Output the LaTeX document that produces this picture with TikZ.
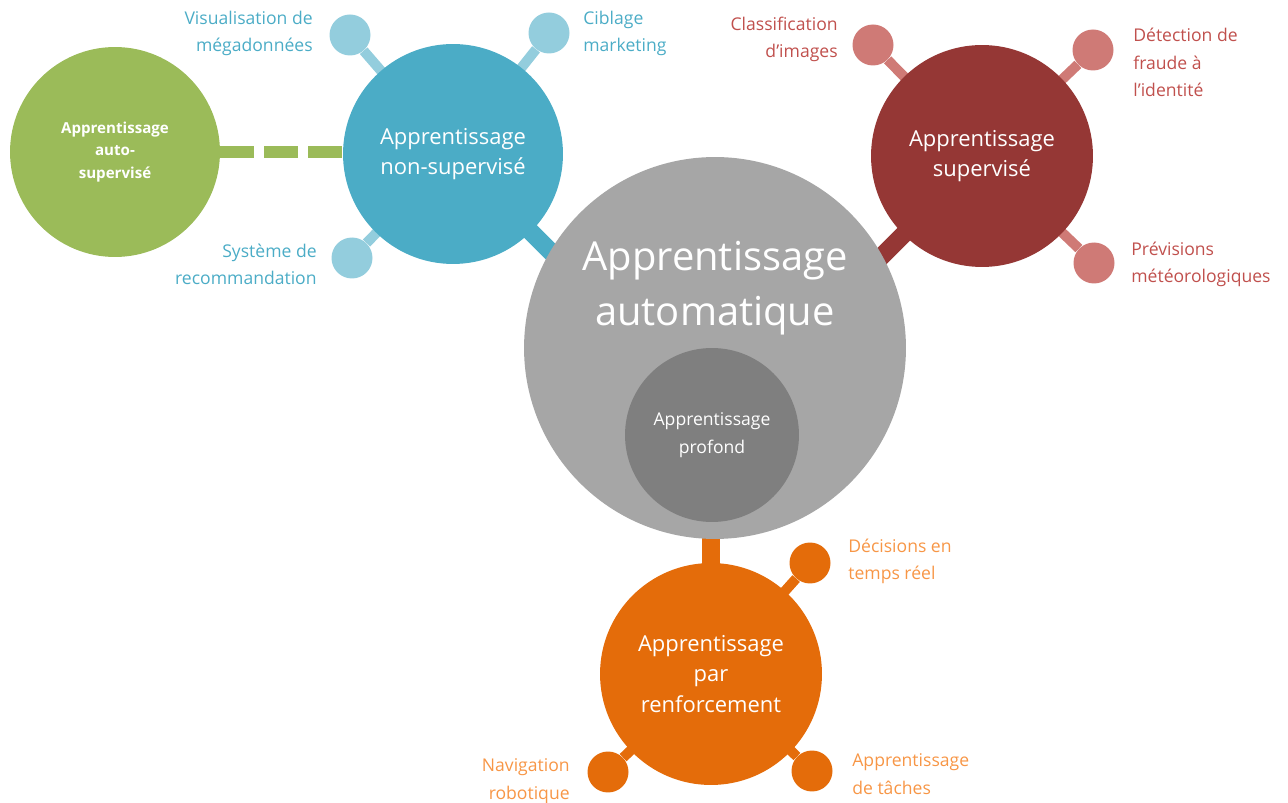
\documentclass[tikz,border=0pt]{standalone}
\usepackage{fontspec}
\setmainfont{Open Sans}
\usetikzlibrary{backgrounds}

\definecolor{grnC}{HTML}{9BBB59}
\definecolor{bluC}{HTML}{4BACC6}
\definecolor{bluL}{HTML}{93CDDD}
\definecolor{redC}{HTML}{953735}
\definecolor{redL}{HTML}{CF7A76}
\definecolor{redT}{HTML}{C0504D}
\definecolor{orgC}{HTML}{E46C0A}
\definecolor{orgT}{HTML}{F79646}
\definecolor{gryA}{HTML}{A6A6A6}
\definecolor{gryB}{HTML}{7F7F7F}

\begin{document}
\begin{tikzpicture}[x=0.02cm, y=-0.02cm,
	bubble/.style={circle, inner sep=0pt, text=white, align=center},
	leaf/.style={circle, inner sep=0pt, minimum size=0.82cm},
	tag/.style={inner sep=0pt, font=\fontsize{10}{15.9}\selectfont},
	twig/.style={line width=5.7pt},
	trunk/.style={line width=10.2pt}]
	\useasboundingbox (0,0) rectangle (1288,803);
	% main circles
	\node[bubble, fill=gryA, minimum size=7.64cm] (auto) at (715,348) {};
	\node[text=white, align=center, inner sep=0pt, font=\fontsize{22.7}{31.2}\selectfont] (autoT) at (715,288) {Apprentissage\\automatique};
	\node[bubble, fill=gryB, minimum size=3.48cm, font=\fontsize{10}{15.9}\selectfont] (deep) at (712,435) {Apprentissage\\profond};
	\node[bubble, fill=bluC, minimum size=4.4cm, font=\fontsize{12.5}{17.3}\selectfont] (unsup) at (453,154) {Apprentissage\\non-supervisé};
	\node[bubble, fill=grnC, minimum size=4.2cm, font=\fontsize{8.6}{12.8}\selectfont\bfseries] (selfsup) at (115,152) {Apprentissage\\auto-\\supervisé};
	\node[bubble, fill=redC, minimum size=4.44cm, font=\fontsize{12.5}{17.3}\selectfont] (sup) at (982,156) {Apprentissage\\supervisé};
	\node[bubble, fill=orgC, minimum size=4.44cm, font=\fontsize{12.5}{17.3}\selectfont] (reinf) at (711,674) {Apprentissage\\par\\renforcement};
	% small circles
	\node[leaf, fill=bluL] (bigdata) at (350,35) {};
	\node[leaf, fill=bluL] (marketing) at (549,33) {};
	\node[leaf, fill=bluL] (recommend) at (352,258) {};
	\node[leaf, fill=redL] (images) at (873,45) {};
	\node[leaf, fill=redL] (fraud) at (1093,50) {};
	\node[leaf, fill=redL] (weather) at (1094,263) {};
	\node[leaf, fill=orgC] (realtime) at (810,563) {};
	\node[leaf, fill=orgC] (robot) at (608,772) {};
	\node[leaf, fill=orgC] (tasks) at (812,771) {};
	% labels (base = last line)
	\node[tag, text=bluC, align=right, anchor=base east] (bigdataT) at (313,52) {Visualisation de\\mégadonnées};
	\node[tag, text=bluC, align=left, anchor=base west] (marketingT) at (583,52) {Ciblage\\marketing};
	\node[tag, text=bluC, align=right, anchor=base east] (recommendT) at (317,285) {Système de\\recommandation};
	\node[tag, text=redT, align=right, anchor=base east] (imagesT) at (838,58) {Classification\\d’images};
	\node[tag, text=redT, align=left, anchor=base west] (fraudT) at (1133,97) {Détection de\\fraude à\\l’identité};
	\node[tag, text=redT, align=left, anchor=base west] (weatherT) at (1131,283) {Prévisions\\météorologiques};
	\node[tag, text=orgT, align=left, anchor=base west] (realtimeT) at (848,580) {Décisions en\\temps réel};
	\node[tag, text=orgT, align=right, anchor=base east] (robotT) at (570,799) {Navigation\\robotique};
	\node[tag, text=orgT, align=left, anchor=base west] (tasksT) at (852,794) {Apprentissage\\de tâches};
	\coordinate (unsupJoin) at (566,267);
	\coordinate (supJoin) at (865,273);
	% connectors
	\begin{pgfonlayer}{background}
		\draw[trunk, bluC] (unsup.center)--(unsupJoin);
		\draw[trunk, redC] (sup.center)--(supJoin);
		\draw[trunk, orgC] (auto.center -| reinf.center)--(reinf.center);
		\draw[line width=6.8pt, grnC, dash pattern=on 19.3pt off 5.7pt] (selfsup.east)--(selfsup.east -| unsup.west);
		\draw[twig, bluL] (bigdata)--(unsup.center);
		\draw[twig, bluL] (marketing)--(unsup.center);
		\draw[twig, bluL] (recommend)--(unsup.center);
		\draw[twig, redL] (images)--(sup.center);
		\draw[twig, redL] (fraud)--(sup.center);
		\draw[twig, redL] (weather)--(sup.center);
		\draw[twig, orgC] (realtime)--(reinf.center);
		\draw[twig, orgC] (robot)--(reinf.center);
		\draw[twig, orgC] (tasks)--(reinf.center);
	\end{pgfonlayer}
\end{tikzpicture}
\end{document}
